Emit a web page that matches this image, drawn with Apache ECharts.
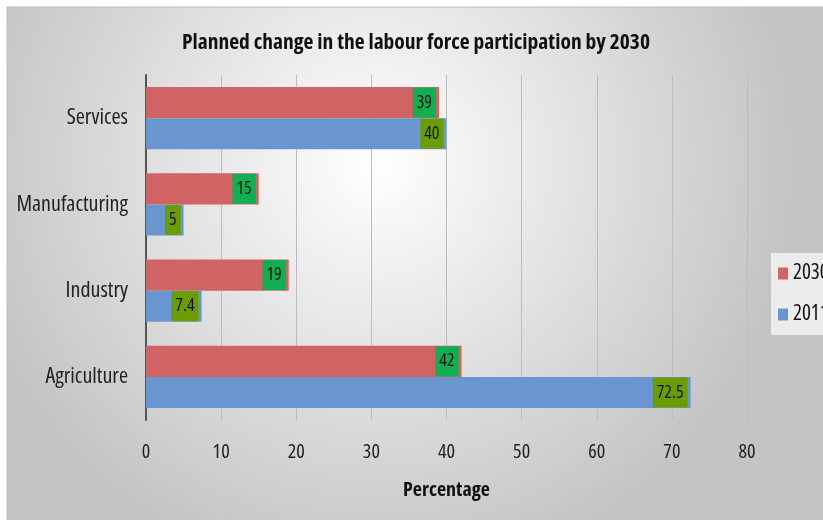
<!DOCTYPE html>
<html><head><meta charset="utf-8">
<script src="https://cdn.jsdelivr.net/npm/echarts@6/dist/echarts.min.js"></script>
<style>html,body{margin:0;padding:0;background:#fff}#c{width:823px;height:520px}</style>
</head><body><div id="c"></div>
<script>
const categories = ['Agriculture', 'Industry', 'Manufacturing', 'Services'];
const values2030 = [42, 19, 15, 39];
const values2011 = [72.5, 7.4, 5, 40];
const xTicks = [0, 10, 20, 30, 40, 50, 60, 70, 80];
const FONT = '"Open Sans", sans-serif';
const ST = 'condensed';

const chart = echarts.init(document.getElementById('c'));
chart.setOption({
  animation: false,
  textStyle: { fontFamily: FONT, fontStyle: ST },
  graphic: [{
    type: 'rect', z: -10, silent: true,
    shape: { x: 7, y: 7, width: 820, height: 520 },
    style: {
      fill: {
        type: 'radial', x: 0.45, y: 0.3, r: 0.8,
        colorStops: [{ offset: 0, color: '#ffffff' }, { offset: 1, color: '#c4c4c4' }]
      },
      stroke: '#bdbdbd', lineWidth: 1
    }
  }],
  title: {
    text: 'Planned change in the labour force participation by 2030',
    left: 411, top: 27, textAlign: 'center',
    textStyle: { fontFamily: FONT, fontStyle: ST, fontSize: 21.5, fontWeight: 'bold', color: '#111' }
  },
  legend: {
    orient: 'vertical', left: 771, top: 253,
    data: ['2030', '2011'],
    itemWidth: 10, itemHeight: 12, itemGap: 20,
    backgroundColor: '#ececec', padding: [10, 8, 10, 7],
    icon: 'rect',
    textStyle: { fontFamily: FONT, fontStyle: ST, fontSize: 21, color: '#111' }
  },
  grid: { left: 146, right: 76, top: 75, bottom: 100 },
  xAxis: {
    type: 'value', min: 0, max: 80, interval: 10,
    name: 'Percentage', nameLocation: 'middle', nameGap: 60,
    nameTextStyle: { fontFamily: FONT, fontStyle: ST, fontSize: 20, fontWeight: 'bold', color: '#111' },
    axisLine: { show: false }, axisTick: { show: false },
    axisLabel: {
      margin: 22, fontSize: 20, color: '#222', fontFamily: FONT, fontStyle: ST,
      customValues: xTicks
    },
    splitLine: { show: true, lineStyle: { color: '#bdbdbd', width: 1 } }
  },
  yAxis: {
    type: 'category', data: categories,
    axisLine: { show: true, lineStyle: { color: '#555', width: 2 } },
    axisTick: { show: false },
    axisLabel: { margin: 18, fontSize: 22, color: '#222', fontFamily: FONT, fontStyle: ST }
  },
  series: [
    {
      name: '2030', type: 'bar', data: values2030, barCategoryGap: '28%', barGap: '0%',
      itemStyle: { color: '#d06464' },
      label: {
        show: true, position: 'insideRight', distance: 3,
        backgroundColor: '#0fb052', color: '#111', fontSize: 18, lineHeight: 20, fontFamily: FONT, fontStyle: ST,
        padding: [5, 4, 5, 4]
      }
    },
    {
      name: '2011', type: 'bar', data: values2011, barCategoryGap: '28%', barGap: '0%',
      itemStyle: { color: '#6a96d0' },
      label: {
        show: true, position: 'insideRight', distance: 3,
        backgroundColor: '#6c9d00', color: '#111', fontSize: 18, lineHeight: 20, fontFamily: FONT, fontStyle: ST,
        padding: [5, 4, 5, 4]
      }
    }
  ]
});
</script></body></html>
